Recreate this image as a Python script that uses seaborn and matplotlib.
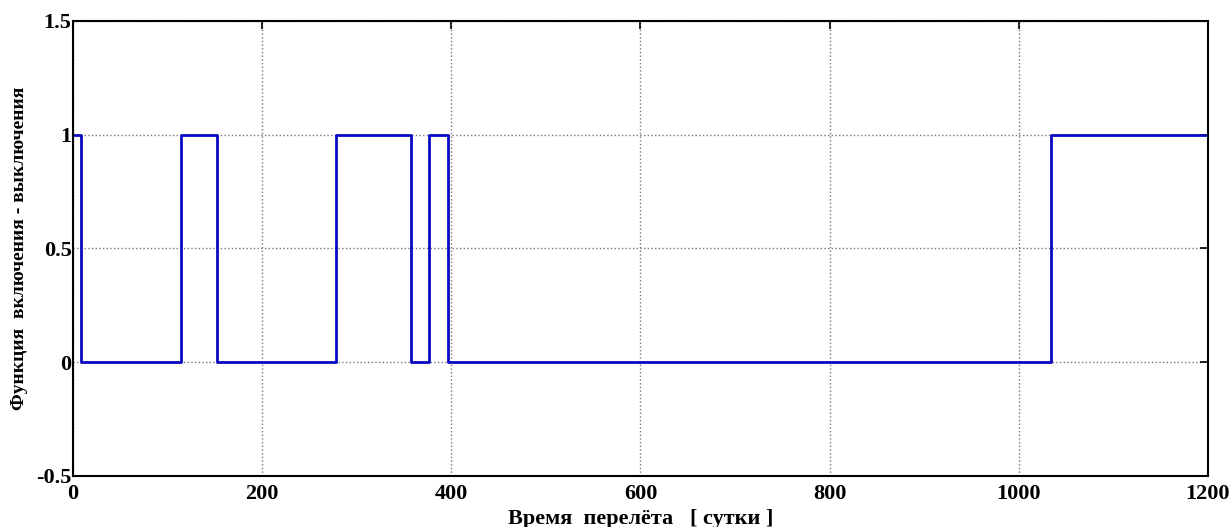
import numpy as np
import pandas as pd
import matplotlib
matplotlib.use("Agg")
import matplotlib.pyplot as plt
import seaborn as sns

# switching times [days] and control value after each switch
t_switch = [0, 8, 114, 152, 278, 357, 376, 397, 1034, 1200]
u_value = [1, 0, 1, 0, 1, 0, 1, 0, 1, 1]
x_ticks = [0, 200, 400, 600, 800, 1000, 1200]
y_ticks = [-0.5, 0, 0.5, 1, 1.5]
y_labels = ["-0.5", "0", "0.5", "1", "1.5"]

df = pd.DataFrame({"t": t_switch, "u": u_value})

sns.set_style("white")
plt.rcParams["font.family"] = ["Liberation Serif", "DejaVu Serif"]
plt.rcParams["font.weight"] = "bold"
plt.rcParams["text.color"] = "black"
plt.rcParams["axes.labelcolor"] = "black"

fig = plt.figure(figsize=(12.31, 5.27), dpi=100)
ax = fig.add_axes([0.0593, 0.0968, 0.922, 0.8634])
sns.lineplot(data=df, x="t", y="u", ax=ax, color="#0a0ac0", linewidth=2,
             drawstyle="steps-post", sort=False, estimator=None)

ax.set_xlim(0, 1200)
ax.set_ylim(-0.5, 1.5)
ax.set_xticks(x_ticks)
ax.set_yticks(y_ticks)
ax.set_yticklabels(y_labels)
ax.grid(True, linestyle=":", color="#777777", linewidth=1)
ax.tick_params(direction="in", top=True, right=True, length=6, width=1.2,
               labelsize=16, colors="black")
ax.tick_params(axis="x", pad=6)
ax.tick_params(axis="y", pad=1)
for lab in ax.get_xticklabels() + ax.get_yticklabels():
    lab.set_fontweight("bold")
for s in ax.spines.values():
    s.set_color("black")
    s.set_linewidth(1.5)

ax.set_xlabel("Время  перелёта   [ сутки ]", fontsize=16, fontweight="bold",
              color="black")
ax.set_ylabel("Функция  включения - выключения", fontsize=14, fontweight="bold",
              color="black")
ax.xaxis.set_label_coords(0.5, -0.072)
ax.yaxis.set_label_coords(-0.040, 0.5)

fig.savefig("out.png", dpi=100)
